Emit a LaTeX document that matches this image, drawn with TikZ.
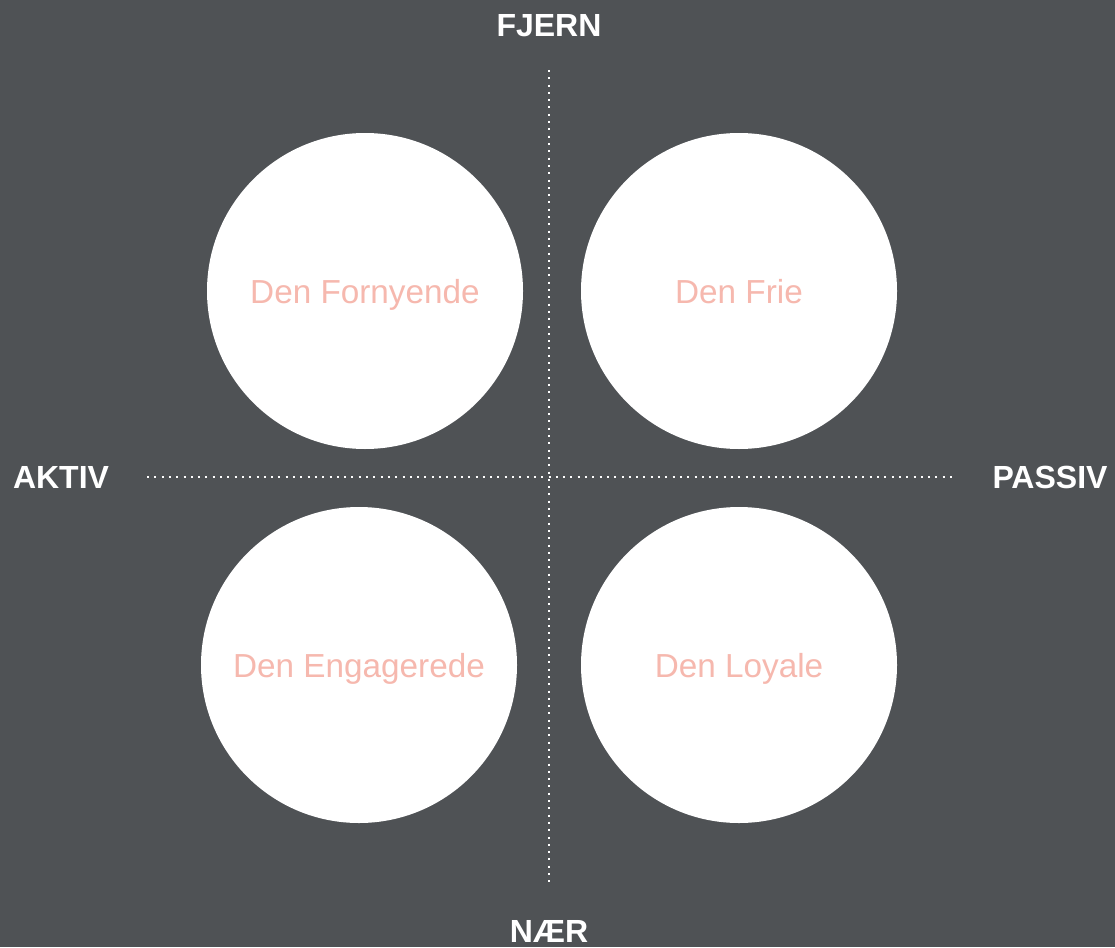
\documentclass[tikz,border=0pt]{standalone}
\usepackage{fontspec}
\setmainfont{Liberation Sans}
\begin{document}
\begin{tikzpicture}[x=1pt,y=-1pt,
  axislabel/.style={text=white,font=\fontsize{32}{32}\selectfont\bfseries,inner sep=0pt},
  quad/.style={circle,fill=white,minimum size=316pt,inner sep=0pt,text=pinktext,font=\fontsize{33.3}{33.3}\selectfont,text height=24pt,text depth=0pt},
  dotline/.style={draw=white,line width=2pt,dash pattern=on 2pt off 5.3pt}]
\definecolor{bgc}{RGB}{79,82,85}
\definecolor{pinktext}{RGB}{246,184,174}
\fill[bgc] (0,0) rectangle (1115,947);
\useasboundingbox (0,0) rectangle (1115,947);
\coordinate (vtop) at (549,70);
\coordinate (vbot) at (549,885);
\coordinate (hleft) at (147,477);
\coordinate (hright) at (952,477);
\draw[dotline] (vtop) -- (vbot);
\draw[dotline] (hleft) -- (hright);
\node[quad] (fornyende) at (365,291) {Den Fornyende};
\node[quad] (frie) at (739,291) {Den Frie};
\node[quad] (engagerede) at (359,665) {Den Engagerede};
\node[quad] (loyale) at (739,665) {Den Loyale};
\node[axislabel] (fjern) at (549,26) {FJERN};
\node[axislabel] (naer) at (549,931) {NÆR};
\node[axislabel] (aktiv) at (61,477) {AKTIV};
\node[axislabel] (passiv) at (1050,477) {PASSIV};
\end{tikzpicture}
\end{document}
